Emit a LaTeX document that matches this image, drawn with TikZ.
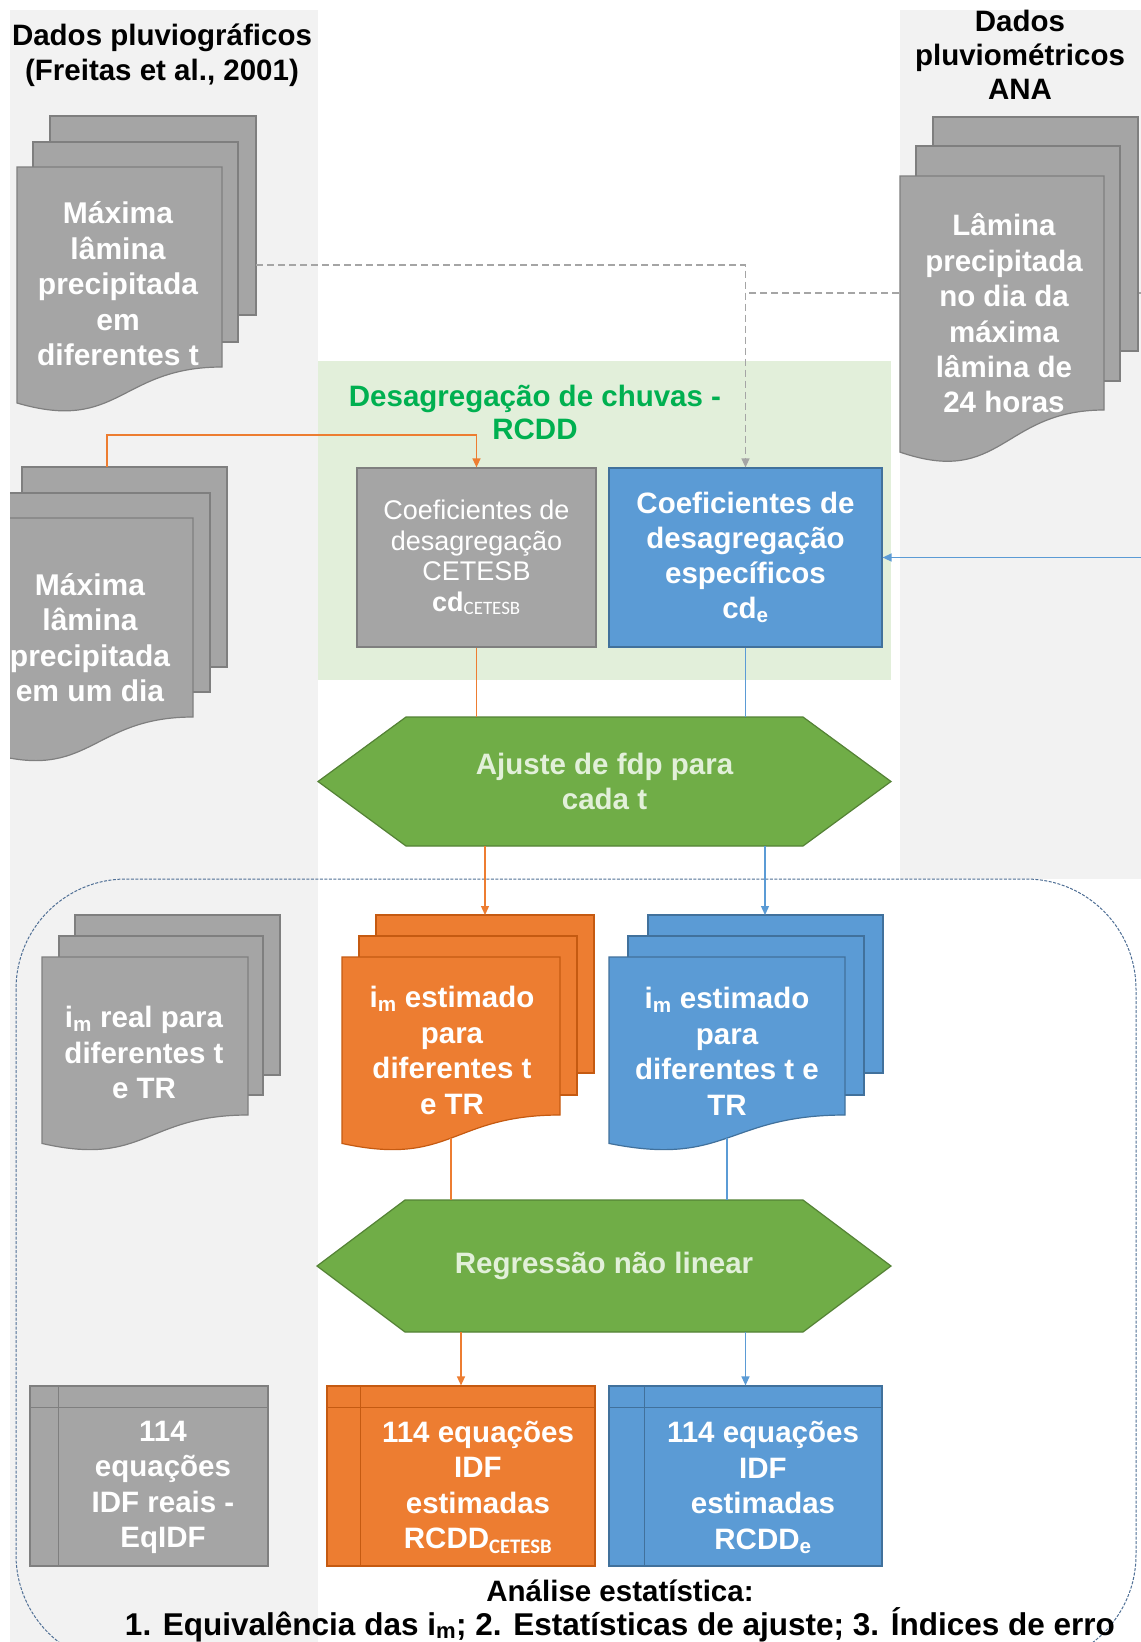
\documentclass[tikz,border=0pt]{standalone}
\usepackage{fontspec}
\setmainfont{Liberation Sans}
\newfontfamily\calib{Carlito}
\usetikzlibrary{arrows.meta,calc}

\definecolor{pgray}{HTML}{F2F2F2}
\definecolor{pgreen}{HTML}{E2EFDA}
\definecolor{dgray}{HTML}{A5A5A5}
\definecolor{dgrayb}{HTML}{7F7F7F}
\definecolor{orng}{HTML}{ED7D31}
\definecolor{orngb}{HTML}{C55A11}
\definecolor{blu}{HTML}{5B9BD5}
\definecolor{blub}{HTML}{41719C}
\definecolor{grn}{HTML}{70AD47}
\definecolor{grnb}{HTML}{548235}
\definecolor{ttlgreen}{HTML}{00B050}
\definecolor{hextext}{HTML}{E2F0D9}
\definecolor{framec}{HTML}{4F6F95}

% front page of a multi-document: style, x0, x1, top, right-bottom offset
\newcommand{\wavedoc}[5]{%
  \path[#1] (#2,#4) -- (#3,#4) -- (#3,{#4+#5})
    .. controls ({(#2+#3)/2},{#4+#5}) and ({(#2+#3)/2},{#4+1.33*#5}) ..
    (#2,{#4+1.18*#5}) -- cycle;}

\begin{document}
\begin{tikzpicture}[x=1pt,y=-1pt,
  gpage/.style={fill=dgray,draw=dgrayb,line width=1.2},
  opage/.style={fill=orng,draw=orngb,line width=1.2},
  bpage/.style={fill=blu,draw=blub,line width=1.2},
  hexs/.style={fill=grn,draw=grnb,line width=1.2},
  txt/.style={text=white,font=\bfseries\fontsize{29.5}{35.5}\selectfont,align=center,inner sep=0},
  ttl/.style={text=black,font=\bfseries\fontsize{29.5}{35}\selectfont,align=center,inner sep=0},
  boxG/.style={fill=dgray,draw=dgrayb,line width=1.2,inner sep=0},
  boxO/.style={fill=orng,draw=orngb,line width=1.2,inner sep=0},
  boxB/.style={fill=blu,draw=blub,line width=1.2,inner sep=0},
  tip/.style={-{Triangle[length=9pt,width=8pt]}},
  oline/.style={draw=orng,line width=1.3},
  oarr/.style={oline,tip},
  bline/.style={draw=blu,line width=1.3},
  barr/.style={bline,tip},
  dline/.style={draw=dgray,line width=1.3,dash pattern=on 7pt off 4pt},
  darr/.style={dline,tip}]

\useasboundingbox (0,0) rectangle (1141,1642);
\clip (0,0) rectangle (1141,1642);
\fill[white] (0,0) rectangle (1141,1642);

% panels
\fill[pgray] (10,10) rectangle (318,1642);
\fill[pgray] (900,10) rectangle (1141,879);
\fill[pgreen] (318,361) rectangle (891,680);

% analysis frame
\draw[framec,line width=1,dash pattern=on 3pt off 1.5pt,rounded corners=110]
  (16,879) rectangle (1136,1665);

% titles
\node[ttl] (t1) at (162,55) {Dados pluviográficos\\(Freitas et al., 2001)};
\node[ttl,font=\bfseries\fontsize{29.5}{34}\selectfont] (t2) at (1020,55) {Dados\\pluviométricos\\ANA};
\node[ttl,text=ttlgreen,font=\bfseries\fontsize{29.5}{33}\selectfont] (t3) at (535,412) {Desagregação de chuvas -\\RCDD};

% disaggregation boxes
\node[boxG,minimum width=239,minimum height=179,text=white,align=center,
  font=\fontsize{27}{30.5}\selectfont] (cetesb) at (476.5,557.5)
  {Coeficientes de\\desagregação\\CETESB\\\textbf{cd}{\calib\textsubscript{CETESB}}};
\node[boxB,minimum width=273,minimum height=179,text=white,align=center,
  font=\bfseries\fontsize{29.5}{35}\selectfont] (blueb) at (745.5,557.5)
  {Coeficientes de\\desagregação\\específicos\\cd\textsubscript{e}};

% dashed input from the right (behind stack B)
\coordinate (bIn) at (1141,293);
\draw[dline] (bIn) -- (blueb.north |- bIn);

% stack A
\path[gpage] (50,116) rectangle (256,315);
\path[gpage] (33,142) rectangle (238,342);
\wavedoc{gpage}{17}{222}{167}{200}
\node[txt,font=\bfseries\fontsize{30}{35.5}\selectfont] (sA) at (118,284) {Máxima\\lâmina\\precipitada\\em\\diferentes t};
\coordinate (aOut) at (256,265);

% stack B
\path[gpage] (933,117) rectangle (1138,351);
\path[gpage] (916,146) rectangle (1120,381);
\wavedoc{gpage}{900}{1104}{176}{234}
\node[txt,font=\bfseries\fontsize{29.5}{35.4}\selectfont] (sB) at (1004,313.5)
  {Lâmina\\precipitada\\no dia da\\máxima\\lâmina de\\24 horas};

\draw[darr] (aOut) -| (blueb.north);

% stack C
\begin{scope}
  \clip (10,0) rectangle (1141,1642);
  \path[gpage] (22,467) rectangle (227,667);
  \path[gpage] (5,493) rectangle (210,692);
  \wavedoc{gpage}{-12}{193}{518}{199}
\end{scope}
\node[txt,font=\bfseries\fontsize{30}{35.5}\selectfont] (sC) at (90,637.5) {Máxima\\lâmina\\precipitada\\em um dia};
\coordinate (cTop) at (107,467);
\draw[oarr] (cTop) -- ++(0,-32) -| (cetesb.north);

% input from the right
\coordinate (rIn) at (1141,557.5);
\draw[barr] (rIn) -- (blueb.east);

% hexagon 1
\path[hexs] (318,781.5) -- (406,717) -- (803,717) -- (891,781.5) -- (803,846) -- (406,846) -- cycle;
\node[txt,text=hextext,minimum width=573,minimum height=129] (hex1) at (604.5,781.5) {Ajuste de fdp para\\cada t};
\draw[oline] (cetesb.south) -- (cetesb.south |- hex1.north);
\draw[bline] (blueb.south) -- (blueb.south |- hex1.north);

% stack D
\path[gpage] (75,915) rectangle (280,1075);
\path[gpage] (59,936) rectangle (263,1095);
\wavedoc{gpage}{42}{248}{957}{158}
\node[txt] (sD) at (144,1052.5) {i\textsubscript{m} real para\\diferentes t\\e TR};

% stack E
\path[opage] (376,915) rectangle (594,1073);
\path[opage] (359,936) rectangle (577,1095);
\wavedoc{opage}{342}{560}{957}{158}
\node[txt] (sE) at (452,1050.5) {i\textsubscript{m} estimado\\para\\diferentes t\\e TR};
\coordinate (eTop) at (485,915);
\coordinate (eBot) at (451,1138);

% stack F
\path[bpage] (648,915) rectangle (883,1073);
\path[bpage] (628,936) rectangle (864,1095);
\wavedoc{bpage}{609}{845}{957}{158}
\node[txt] (sF) at (727,1051.5) {i\textsubscript{m} estimado\\para\\diferentes t e\\TR};
\coordinate (fTop) at (765,915);
\coordinate (fBot) at (727,1138);

\draw[oarr] (eTop |- hex1.south) -- (eTop);
\draw[barr] (fTop |- hex1.south) -- (fTop);

% hexagon 2
\path[hexs] (317,1266) -- (405,1200) -- (803,1200) -- (891,1266) -- (803,1332) -- (405,1332) -- cycle;
\node[txt,text=hextext,minimum width=574,minimum height=132] (hex2) at (604,1266) {Regressão não linear};
\draw[oline] (eBot) -- (eBot |- hex2.north);
\draw[bline] (fBot) -- (fBot |- hex2.north);

% bottom boxes
\node[boxG,minimum width=238,minimum height=180] (G) at (149,1476) {};
\draw[dgrayb,line width=1.2] ($(G.north west)+(0,22)$) -- ($(G.north east)+(0,22)$);
\draw[dgrayb,line width=1.2] ($(G.north west)+(29,0)$) -- ($(G.south west)+(29,0)$);
\node[txt] (gT) at (163,1487.5) {114\\equações\\IDF reais -\\EqIDF};

\node[boxO,minimum width=268,minimum height=180] (H) at (461,1476) {};
\draw[orngb,line width=1.2] ($(H.north west)+(0,22)$) -- ($(H.north east)+(0,22)$);
\draw[orngb,line width=1.2] ($(H.north west)+(34,0)$) -- ($(H.south west)+(34,0)$);
\node[txt] (hT) at (478,1487.5) {114 equações\\IDF\\estimadas\\RCDD{\calib\textsubscript{CETESB}}};

\node[boxB,minimum width=273,minimum height=180] (I) at (745.5,1476) {};
\draw[blub,line width=1.2] ($(I.north west)+(0,22)$) -- ($(I.north east)+(0,22)$);
\draw[blub,line width=1.2] ($(I.north west)+(36,0)$) -- ($(I.south west)+(36,0)$);
\node[txt] (iT) at (763,1487.5) {114 equações\\IDF\\estimadas\\RCDD\textsubscript{e}};

\draw[oarr] (H.north |- hex2.south) -- (H.north);
\draw[barr] (I.north |- hex2.south) -- (I.north);

% analysis text
\node[ttl] (an1) at (620,1591) {Análise estatística:};
\node[ttl,font=\bfseries\fontsize{31.5}{36}\selectfont] (an2) at (620,1624.5)
  {1. Equivalência das i\textsubscript{m}; 2. Estatísticas de ajuste; 3. Índices de erro};

\end{tikzpicture}
\end{document}
